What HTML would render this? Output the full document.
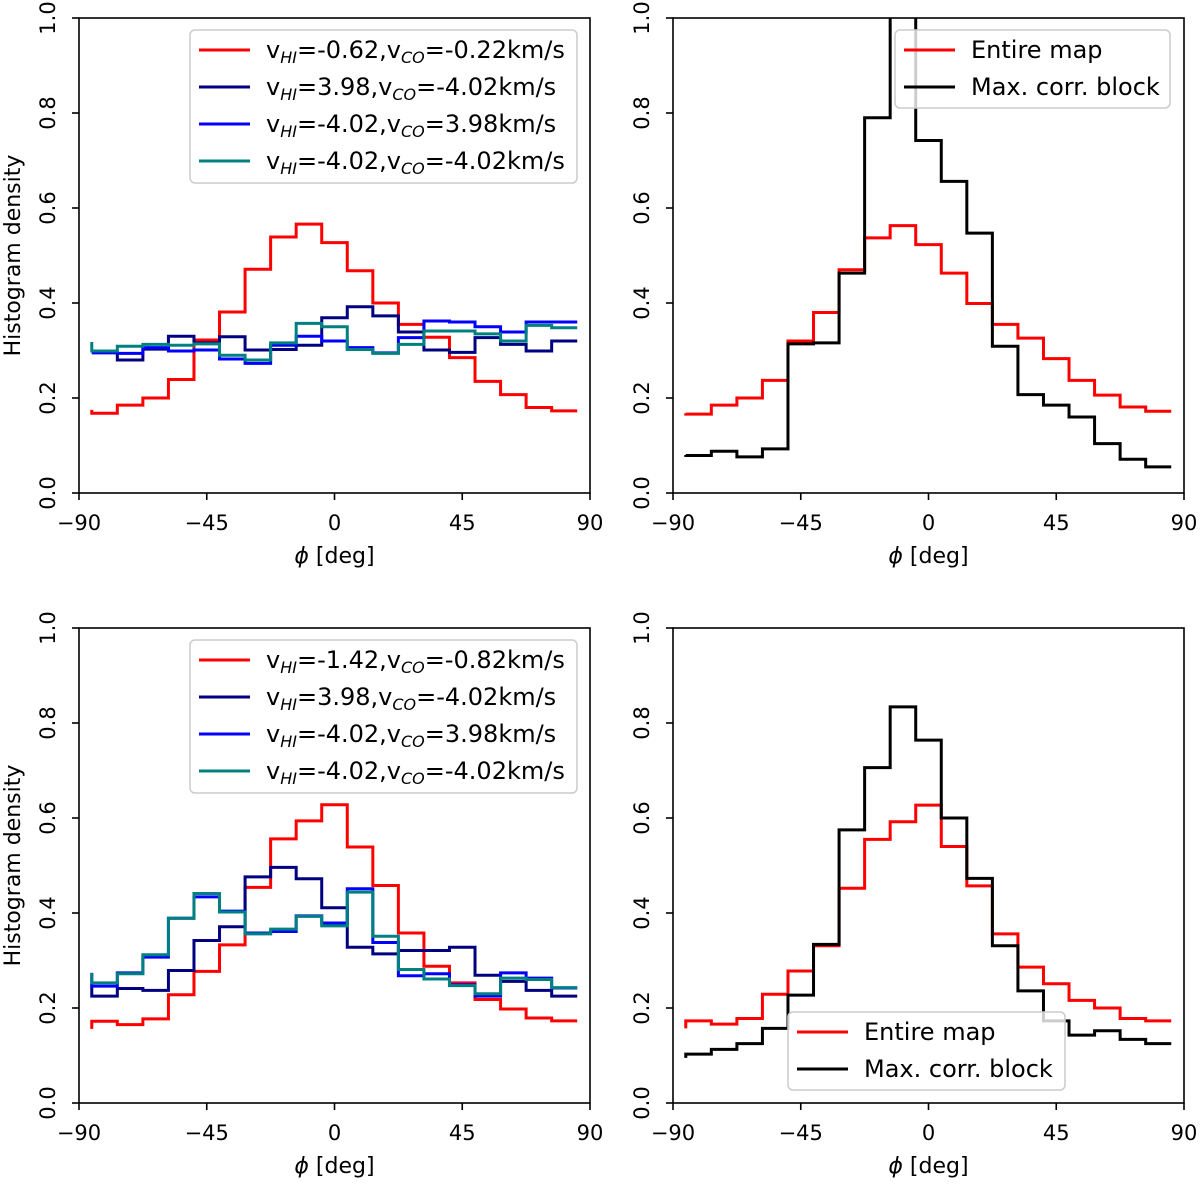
<!DOCTYPE html>
<html><head><meta charset="utf-8"><style>
html,body{margin:0;padding:0;background:#fff}
svg{display:block;font-family:"DejaVu Sans","Liberation Sans",sans-serif}
</style></head><body>
<svg id="fig" width="1200" height="1184" viewBox="0 0 1200 1184" xmlns="http://www.w3.org/2000/svg"></svg>
<script>
// bin centres (deg)
const phiCenters = [-85.5,-76.5,-67.5,-58.5,-49.5,-40.5,-31.5,-22.5,-13.5,-4.5,4.5,13.5,22.5,31.5,40.5,49.5,58.5,67.5,76.5,85.5];
const xTicks = [-90,-45,0,45,90];
const xTickLabels = ["\u221290","\u221245","0","45","90"];
const yTicks = [0,0.2,0.4,0.6,0.8,1.0];
const yTickLabels = ["0.0","0.2","0.4","0.6","0.8","1.0"];
// top-left
const tlRed   = [0.175,0.168,0.185,0.2,0.239,0.322,0.381,0.471,0.539,0.566,0.527,0.468,0.4,0.355,0.328,0.285,0.235,0.207,0.180,0.173];
const tlNavy  = [0.296,0.296,0.28,0.303,0.33,0.316,0.329,0.301,0.302,0.311,0.369,0.392,0.373,0.339,0.301,0.296,0.327,0.313,0.299,0.32];
const tlBlue  = [0.295,0.295,0.294,0.306,0.299,0.301,0.282,0.273,0.311,0.33,0.32,0.306,0.295,0.327,0.362,0.36,0.35,0.339,0.36,0.36];
const tlTeal  = [0.318,0.299,0.309,0.313,0.311,0.314,0.29,0.28,0.316,0.357,0.35,0.302,0.294,0.313,0.341,0.341,0.335,0.32,0.353,0.348];
// top-right
const trRed   = [0.168,0.166,0.185,0.2,0.237,0.32,0.38,0.47,0.537,0.563,0.523,0.463,0.399,0.355,0.326,0.283,0.237,0.206,0.181,0.172];
const trBlack = [0.08,0.079,0.088,0.076,0.093,0.314,0.316,0.463,0.79,1.1,0.742,0.656,0.547,0.309,0.207,0.185,0.16,0.104,0.071,0.055];
// bottom-left
const blRed   = [0.156,0.172,0.165,0.177,0.228,0.277,0.333,0.454,0.556,0.594,0.628,0.539,0.458,0.358,0.288,0.253,0.218,0.198,0.179,0.173];
const blNavy  = [0.25,0.225,0.241,0.237,0.279,0.342,0.371,0.476,0.496,0.472,0.411,0.328,0.314,0.321,0.321,0.328,0.269,0.256,0.237,0.225];
const blBlue  = [0.274,0.246,0.274,0.307,0.389,0.434,0.404,0.358,0.361,0.394,0.379,0.451,0.338,0.268,0.272,0.249,0.225,0.274,0.263,0.242];
const blTeal  = [0.274,0.253,0.272,0.312,0.389,0.441,0.402,0.356,0.366,0.393,0.373,0.444,0.351,0.281,0.261,0.247,0.230,0.263,0.26,0.243];
// bottom-right
const brRed   = [0.157,0.173,0.166,0.178,0.229,0.278,0.331,0.452,0.555,0.592,0.627,0.54,0.457,0.356,0.286,0.251,0.216,0.2,0.178,0.173];
const brBlack = [0.095,0.103,0.113,0.125,0.157,0.227,0.334,0.575,0.706,0.834,0.764,0.6,0.473,0.331,0.236,0.173,0.143,0.152,0.134,0.125];

const NS="http://www.w3.org/2000/svg";
const svg=document.getElementById('fig');
function mk(tag,attrs,parent){const e=document.createElementNS(NS,tag);for(const k in attrs)e.setAttribute(k,attrs[k]);(parent||svg).appendChild(e);return e;}

const panels=[
 {id:'top-left',x0:79,x1:590,y0:18,y1:493,ylabel:true,series:[[tlRed,'#ff0000','red'],[tlNavy,'#000080','navy'],[tlBlue,'#0000ff','blue'],[tlTeal,'#008080','teal']],
  legend:{x:190,y:30,w:387,h:153,type:'v',labels:[['-0.62','-0.22'],['3.98','-4.02'],['-4.02','3.98'],['-4.02','-4.02']]}},
 {id:'top-right',x0:673,x1:1184,y0:18,y1:493,ylabel:false,series:[[trRed,'#ff0000','red'],[trBlack,'#000000','black']],
  legend:{x:895,y:30,w:275,h:78,type:'m'}},
 {id:'bottom-left',x0:79,x1:590,y0:628,y1:1103,ylabel:true,series:[[blRed,'#ff0000','red'],[blNavy,'#000080','navy'],[blBlue,'#0000ff','blue'],[blTeal,'#008080','teal']],
  legend:{x:190,y:640,w:387,h:153,type:'v',labels:[['-1.42','-0.82'],['3.98','-4.02'],['-4.02','3.98'],['-4.02','-4.02']]}},
 {id:'bottom-right',x0:673,x1:1184,y0:628,y1:1103,ylabel:false,series:[[brRed,'#ff0000','red'],[brBlack,'#000000','black']],
  legend:{x:788,y:1012,w:277,h:78,type:'m'}}
];

panels.forEach((p,pi)=>{
  const g=mk('g',{});
  
  
  const sx=v=>p.x0+(v+90)/180*(p.x1-p.x0);
  const sy=v=>p.y1-v*(p.y1-p.y0);
  const cp=mk('clipPath',{id:'clip'+pi},g);
  mk('rect',{x:p.x0,y:p.y0,width:p.x1-p.x0,height:p.y1-p.y0},cp);
  p.series.forEach(s=>{
    const vals=s[0];
    let d='M'+sx(phiCenters[0])+','+sy(vals[0]);
    for(let k=1;k<vals.length;k++){
      d+=' L'+sx(phiCenters[k-1])+','+sy(vals[k])+' L'+sx(phiCenters[k])+','+sy(vals[k]);
    }
    const path=mk('path',{d:d,fill:'none',stroke:s[1],'stroke-width':3,'stroke-linejoin':'miter','clip-path':'url(#clip'+pi+')'},g);
    
    
  });
  const fr=mk('rect',{x:p.x0,y:p.y0,width:p.x1-p.x0,height:p.y1-p.y0,fill:'none',stroke:'#000','stroke-width':1.6},g);
  
  
  xTicks.forEach((t,i)=>{
    mk('line',{x1:sx(t),x2:sx(t),y1:p.y1,y2:p.y1+7,stroke:'#000','stroke-width':1.6},g);
    const tx=mk('text',{x:sx(t),y:p.y1+37,'font-size':21,'text-anchor':'middle',fill:'#000'},g);
    tx.textContent=xTickLabels[i];
    
    
  });
  yTicks.forEach((t,i)=>{
    mk('line',{x1:p.x0-7,x2:p.x0,y1:sy(t),y2:sy(t),stroke:'#000','stroke-width':1.6},g);
    const tx=mk('text',{x:0,y:0,'font-size':21,'text-anchor':'middle',fill:'#000',transform:'translate('+(p.x0-24)+','+sy(t)+') rotate(-90)'},g);
    tx.textContent=yTickLabels[i];
    
    
  });
  const xt=mk('text',{x:(p.x0+p.x1)/2,y:p.y1+70,'font-size':22,'text-anchor':'middle',fill:'#000'},g);
  xt.innerHTML='<tspan font-style="italic">\u03d5</tspan> [deg]';
  
  
  if(p.ylabel){
    const yt=mk('text',{x:0,y:0,'font-size':22,'text-anchor':'middle',fill:'#000',transform:'translate(20,'+((p.y0+p.y1)/2)+') rotate(-90)'},g);
    yt.textContent='Histogram density';
    
    
  }
  const L=p.legend;
  const lg=mk('g',{},g);
  
  
  mk('rect',{x:L.x,y:L.y,width:L.w,height:L.h,rx:5,fill:'rgba(255,255,255,0.8)',stroke:'#cccccc','stroke-width':1.5},lg);
  const step=37;
  p.series.forEach((s,i)=>{
    const cy=L.y+20+i*step;
    const ln=mk('line',{x1:L.x+9,x2:L.x+60,y1:cy,y2:cy,stroke:s[1],'stroke-width':3},lg);
    
    
    const tx=mk('text',{x:L.x+76,y:cy+8,'font-size':24,fill:'#000'},lg);
    if(L.type==='v'){
      const lb=L.labels[i];
      tx.innerHTML='v<tspan font-size="16" font-style="italic" dy="5">HI</tspan><tspan dy="-5">='+lb[0]+',v</tspan><tspan font-size="16" font-style="italic" dy="5">CO</tspan><tspan dy="-5">='+lb[1]+'km/s</tspan>';
    } else {
      tx.textContent=i===0?'Entire map':'Max. corr. block';
    }
    
    
  });
});
</script>
</body></html>
